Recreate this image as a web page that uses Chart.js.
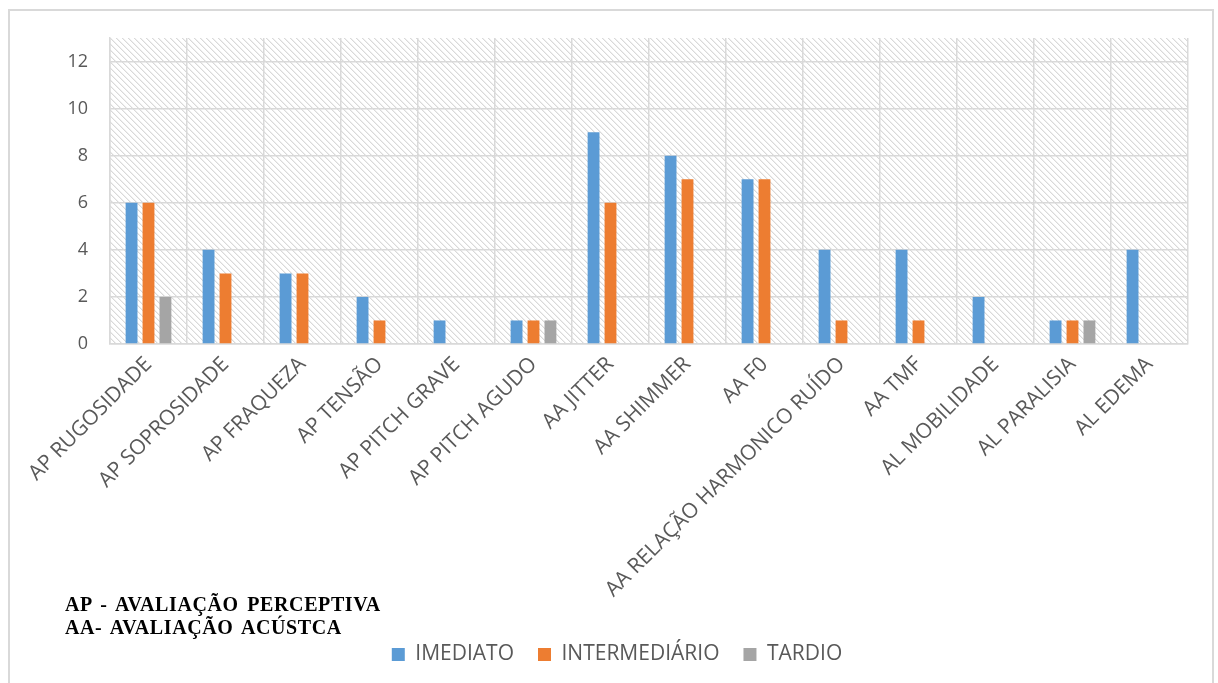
<!DOCTYPE html>
<html lang="pt">
<head>
<meta charset="utf-8">
<title>Avaliação</title>
<script src="https://cdn.jsdelivr.net/npm/chart.js@4"></script>
<style>
  html, body { margin: 0; padding: 0; background: #fff; }
  #wrap { position: absolute; left: 0; top: 0; width: 1218px; height: 683px; }
  #frame {
    position: absolute; left: 8px; top: 9px; width: 1206px; height: 700px;
    border: 2px solid #d9d9d9; box-sizing: border-box; pointer-events: none;
  }
  #nota {
    position: absolute; left: 65px; top: 593px;
    font-family: "Liberation Serif", "Times New Roman", serif;
    font-weight: bold; font-size: 20px; line-height: 23px;
    letter-spacing: 0.6px; word-spacing: 3px; color: #000;
  }
</style>
</head>
<body>
<div id="wrap">
  <canvas id="myChart"></canvas>
  <div id="frame"></div>
  <div id="nota">AP - AVALIAÇÃO PERCEPTIVA<br>AA- AVALIAÇÃO ACÚSTCA</div>
</div>
<script>
// categorias e séries
const categorias = [
    'AP RUGOSIDADE', 'AP SOPROSIDADE', 'AP FRAQUEZA', 'AP TENSÃO',
    'AP PITCH GRAVE', 'AP PITCH AGUDO', 'AA JITTER', 'AA SHIMMER', 'AA F0',
    'AA RELAÇÃO HARMONICO RUÍDO', 'AA TMF', 'AL MOBILIDADE', 'AL PARALISIA', 'AL EDEMA'
];
const imediato      = [6, 4, 3, 2, 1, 1, 9, 8, 7, 4, 4, 2, 1, 4];
const intermediario = [6, 3, 3, 1, 0, 1, 6, 7, 7, 1, 1, 0, 1, 0];
const tardio        = [2, 0, 0, 0, 0, 1, 0, 0, 0, 0, 0, 0, 1, 0];
const yTicks = [0, 2, 4, 6, 8, 10, 12];

document.addEventListener('DOMContentLoaded', () => {
    const ctx = document.getElementById('myChart').getContext('2d');

    // hachura diagonal do fundo da área do gráfico
    function makeHatch() {
        const c = document.createElement('canvas');
        c.width = 6; c.height = 6;
        const g = c.getContext('2d');
        for (let i = 0; i < 6; i++) {
            g.fillStyle = '#d9d9d9';
            g.fillRect(i, i, 1, 1);
            g.fillStyle = '#efefef';
            g.fillRect((i + 1) % 6, i, 1, 1);
        }
        return ctx.createPattern(c, 'repeat');
    }
    const hatch = makeHatch();

    const hatchPlugin = {
        id: 'hatchBg',
        beforeDraw(chart) {
            const a = chart.chartArea;
            const c = chart.ctx;
            c.save();
            c.fillStyle = hatch;
            c.fillRect(a.left, a.top, a.right - a.left, a.bottom - a.top);
            c.restore();
        }
    };

    const tickFont = { family: '"Open Sans", sans-serif', size: 18 };
    const catFont = { family: '"Open Sans", sans-serif', size: 21 };
    const legFont = { family: '"Open Sans", sans-serif', size: 21 };

    new Chart(ctx, {
        type: 'bar',
        data: {
            labels: categorias,
            datasets: [
                { label: 'IMEDIATO', data: imediato, backgroundColor: '#5b9bd5' },
                { label: 'INTERMEDIÁRIO', data: intermediario, backgroundColor: '#ed7d31' },
                { label: 'TARDIO', data: tardio, backgroundColor: '#a5a5a5' }
            ]
        },
        options: {
            responsive: true,
            maintainAspectRatio: false,
            animation: false,
            // padding esquerdo desloca o centro da legenda
            layout: { padding: { top: 38, right: 30, bottom: 8, left: 46 } },
            datasets: { bar: { categoryPercentage: 0.66, barPercentage: 0.7 } },
            plugins: {
                tooltip: { enabled: false },
                legend: {
                    position: 'bottom',
                    labels: {
                        font: legFont, color: '#595959',
                        boxWidth: 13, boxHeight: 13, padding: 24
                    }
                }
            },
            scales: {
                x: {
                    grid: { color: '#d9d9d9', lineWidth: 1.5, drawTicks: false, offset: true },
                    border: { color: '#d9d9d9', width: 1.5 },
                    ticks: {
                        font: catFont, color: '#595959',
                        minRotation: 45, maxRotation: 45, autoSkip: false, padding: 8
                    },
                    afterFit: (s) => { s.height = 276; }
                },
                y: {
                    min: 0, max: 13,
                    grid: { color: '#d9d9d9', lineWidth: 1.5, drawTicks: false },
                    border: { color: '#d9d9d9', width: 1.5 },
                    afterBuildTicks: (s) => { s.ticks = yTicks.map(v => ({ value: v })); },
                    ticks: { font: tickFont, color: '#595959', padding: 22 },
                    afterFit: (s) => { s.width = 64; }
                }
            }
        },
        plugins: [hatchPlugin]
    });
});
</script>
</body>
</html>
